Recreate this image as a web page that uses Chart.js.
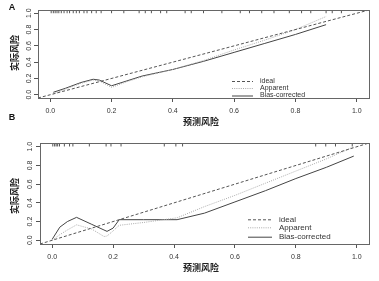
<!DOCTYPE html>
<html>
<head>
<meta charset="utf-8">
<script src="https://cdn.jsdelivr.net/npm/chart.js@4.4.1/dist/chart.umd.min.js"></script>
<style>
html,body{margin:0;padding:0;background:#fff;}
#wrap{position:relative;width:379px;height:281px;}
canvas{position:absolute;left:0;}
#ca{top:0;}
#cb{top:112px;}
</style>
</head>
<body>
<div id="wrap">
<canvas id="ca" width="379" height="128"></canvas>
<canvas id="cb" width="379" height="169"></canvas>
</div>
<script>
// ---- data ----
const xTicks = [0, 0.2, 0.4, 0.6, 0.8, 1.0];
const yTicks = [0, 0.2, 0.4, 0.6, 0.8, 1.0];
const legendLabels = ['ideal', 'Apparent', 'Bias-corrected'];
const xTitle = '预测风险';
const yTitle = '实际风险';
const idealX = [-0.04, 1.04];
const idealY = [-0.04, 1.04];

// Panel A
const aX        = [0.01, 0.05, 0.10, 0.14, 0.16, 0.20, 0.25, 0.30, 0.40, 0.50, 0.60, 0.70, 0.80, 0.90];
const aApparent = [0.01, 0.07, 0.14, 0.18, 0.17, 0.09, 0.16, 0.22, 0.31, 0.42, 0.55, 0.67, 0.80, 0.96];
const aBias     = [0.03, 0.08, 0.15, 0.19, 0.18, 0.11, 0.17, 0.23, 0.31, 0.41, 0.52, 0.63, 0.74, 0.86];
const aRug = [0.003, 0.01, 0.016, 0.022, 0.028, 0.036, 0.045, 0.055, 0.063, 0.075, 0.085, 0.095, 0.11, 0.12, 0.135, 0.15, 0.166,
              0.20, 0.24, 0.29, 0.31, 0.33, 0.36, 0.38, 0.44, 0.46, 0.50, 0.56, 0.62, 0.65, 0.69, 0.73, 0.78, 0.82, 0.85, 0.90, 0.92, 0.95];

// Panel B
const bX        = [0.00, 0.025, 0.05, 0.08, 0.13, 0.17, 0.18, 0.20, 0.22, 0.30, 0.41, 0.50, 0.60, 0.70, 0.80, 0.90, 0.99];
const bApparent = [0.00, 0.06, 0.11, 0.165, 0.12, 0.04, 0.045, 0.10, 0.16, 0.19, 0.24, 0.36, 0.48, 0.61, 0.74, 0.87, 1.00];
const bBias     = [0.01, 0.14, 0.20, 0.245, 0.17, 0.11, 0.095, 0.13, 0.22, 0.22, 0.22, 0.29, 0.41, 0.53, 0.66, 0.78, 0.90];
const bRug = [0.002, 0.008, 0.013, 0.018, 0.024, 0.04, 0.057, 0.068, 0.122, 0.177, 0.193, 0.226, 0.368, 0.406, 0.428, 0.865, 0.898, 0.93, 0.985];

// ---- helpers ----
const FONT = '"Liberation Sans", Arial, sans-serif';
const CJK = '"Noto Sans CJK SC", sans-serif';
const STY = {
  ideal:   {color:'#555', width:1, dash:[3,2]},
  apparent:{color:'#aaa', width:1, dash:[1,1.2]},
  bias:    {color:'#444', width:1, dash:[]}
};
function pts(xs, ys){ return xs.map((x,i)=>({x:x, y:ys[i]})); }

function makePanel(id, cfg){
  const datasets = [
    {label:legendLabels[0], data:pts(idealX, idealY), showLine:true, pointRadius:0, borderColor:STY.ideal.color, borderWidth:STY.ideal.width, borderDash:STY.ideal.dash},
    {label:legendLabels[1], data:pts(cfg.x, cfg.app), showLine:true, pointRadius:0, borderColor:STY.apparent.color, borderWidth:STY.apparent.width, borderDash:STY.apparent.dash},
    {label:legendLabels[2], data:pts(cfg.x, cfg.bias), showLine:true, pointRadius:0, borderColor:STY.bias.color, borderWidth:STY.bias.width},
    {label:'rug', data:cfg.rug.map(v=>({x:v, y:1.02})), showLine:false, pointStyle:'line', rotation:90, pointRadius:1.6, borderColor:'#555', borderWidth:1}
  ];
  const deco = {
    id:'deco',
    afterDraw(chart){
      const ctx = chart.ctx, a = chart.chartArea, ys = chart.scales.y;
      ctx.save();
      // box
      ctx.strokeStyle = '#666'; ctx.lineWidth = 1; ctx.setLineDash([]);
      ctx.strokeRect(Math.round(a.left)+0.5, Math.round(a.top)+0.5, Math.round(a.right-a.left), Math.round(a.bottom-a.top));
      // y tick labels (rotated)
      ctx.fillStyle = '#333'; ctx.font = '7px ' + FONT;
      ctx.textAlign = 'center'; ctx.textBaseline = 'middle';
      yTicks.forEach(v=>{
        const py = ys.getPixelForValue(v);
        ctx.save(); ctx.translate(cfg.yLabX, py); ctx.rotate(-Math.PI/2);
        ctx.fillText(v.toFixed(1), 0, 0); ctx.restore();
      });
      // axis titles
      ctx.fillStyle = '#222'; ctx.font = 'bold 9px ' + CJK;
      ctx.fillText(xTitle, cfg.xTitleX, cfg.xTitleY);
      ctx.save(); ctx.translate(cfg.yTitleX, cfg.yTitleY); ctx.rotate(-Math.PI/2);
      ctx.fillText(yTitle, 0, 0); ctx.restore();
      // panel letter
      ctx.fillStyle = '#111'; ctx.font = 'bold 9px ' + FONT;
      ctx.fillText(cfg.letter, cfg.letterX, cfg.letterY);
      // legend
      const keys = ['ideal','apparent','bias'];
      ctx.font = cfg.legFont + 'px ' + FONT; ctx.textAlign = 'left';
      keys.forEach((k,i)=>{
        const s = STY[k], y = cfg.legY[i];
        ctx.strokeStyle = s.color; ctx.lineWidth = s.width; ctx.setLineDash(s.dash);
        ctx.beginPath(); ctx.moveTo(cfg.legX1, y+0.5); ctx.lineTo(cfg.legX2, y+0.5); ctx.stroke();
        ctx.fillStyle = '#333';
        ctx.fillText(legendLabels[i], cfg.legTX, y);
      });
      ctx.restore();
    }
  };
  return new Chart(document.getElementById(id), {
    type:'scatter',
    data:{datasets},
    options:{
      animation:false, responsive:false, devicePixelRatio:1,
      layout:{padding:{left:0, right:10, top:cfg.padTop, bottom:0}},
      plugins:{legend:{display:false}, tooltip:{enabled:false}},
      elements:{line:{tension:0}},
      scales:{
        x:{type:'linear', min:-0.04, max:1.04,
           afterBuildTicks:s=>{s.ticks = xTicks.map(v=>({value:v}));},
           afterFit:s=>{s.height = cfg.xH;},
           grid:{drawOnChartArea:false, drawTicks:true, tickLength:4, color:'#555'},
           border:{display:false},
           ticks:{font:{size:7, family:FONT}, color:'#333', padding:5, maxRotation:0, callback:v=>Number(v).toFixed(1)}},
        y:{type:'linear', min:-0.04, max:1.04,
           afterBuildTicks:s=>{s.ticks = yTicks.map(v=>({value:v}));},
           afterFit:s=>{s.width = cfg.yW;},
           grid:{drawOnChartArea:false, drawTicks:true, tickLength:4, color:'#555'},
           border:{display:false},
           ticks:{display:false}}
      }
    },
    plugins:[deco]
  });
}

makePanel('ca', {x:aX, app:aApparent, bias:aBias, rug:aRug,
  padTop:10, xH:30, yW:38, yLabX:29,
  xTitleX:201, xTitleY:122, yTitleX:15, yTitleY:53,
  letter:'A', letterX:12, letterY:8,
  legFont:7, legX1:232, legX2:253, legTX:260, legY:[81, 88, 95.5]});

makePanel('cb', {x:bX, app:bApparent, bias:bBias, rug:bRug,
  padTop:31, xH:37, yW:40, yLabX:30,
  xTitleX:201, xTitleY:156, yTitleX:15, yTitleY:84,
  letter:'B', letterX:12, letterY:6,
  legFont:8, legX1:248, legX2:272, legTX:279, legY:[107.3, 115.3, 124.7]});
</script>
</body>
</html>
